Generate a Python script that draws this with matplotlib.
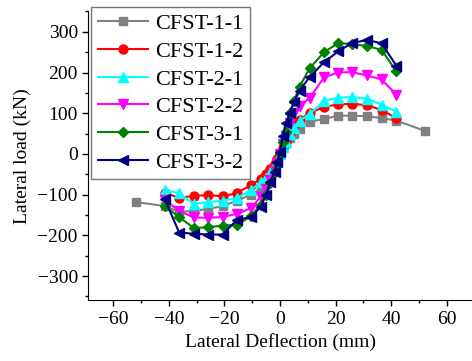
import matplotlib
matplotlib.use("Agg")
import matplotlib.pyplot as plt
from matplotlib.ticker import MultipleLocator

plt.rcParams['font.family'] = ['Liberation Serif', 'DejaVu Serif']

# displacement steps (mm)
x_common = [-41.5, -36.3, -31, -25.9, -20.7, -15.5, -10.4, -7, -5, -3.5, -2, -1, 0,
            1, 2, 3.5, 5, 7, 10.6, 15.8, 20.9, 25.8, 31.2, 36.5, 41.8]
x_11 = [-52] + x_common + [52]

# lateral loads (kN)
y_11 = [-118, -128, -142, -140, -135, -128, -115, -100, -85, -74, -58, -38, -20, 0,
        15, 28, 40, 50, 62, 79, 86, 94, 94, 93, 88, 82, 57]
y_12 = [-95, -108, -103, -101, -104, -96, -76, -62, -50, -38, -24, -12, 0,
        15, 30, 50, 70, 84, 101, 115, 122, 123, 120, 108, 88]
y_21 = [-88, -97, -123, -118, -115, -108, -88, -70, -58, -44, -28, -14, 0,
        16, 30, 48, 64, 82, 98, 130, 138, 140, 136, 121, 104]
y_22 = [-113, -140, -156, -157, -155, -147, -133, -105, -85, -65, -42, -22, 0,
        25, 45, 75, 100, 118, 137, 188, 200, 201, 193, 183, 146]
y_31 = [-128, -155, -182, -180, -176, -174, -153, -125, -100, -72, -45, -22, 0,
        30, 55, 100, 130, 165, 210, 250, 272, 270, 265, 256, 203]
y_32 = [-111, -193, -196, -198, -198, -162, -155, -130, -100, -70, -44, -20, 5,
        45, 75, 100, 128, 155, 189, 225, 252, 272, 280, 272, 217]

labels = ['CFST-1-1', 'CFST-1-2', 'CFST-2-1', 'CFST-2-2', 'CFST-3-1', 'CFST-3-2']
colors = ['#808080', '#ff0000', '#00ffff', '#ff00ff', '#008000', '#000080']
markers = ['s', 'o', '^', 'v', 'D', '<']
sizes = [5.5, 6.5, 7, 7, 5.5, 7]

fig = plt.figure(figsize=(4.72, 3.61), dpi=100)
ax = fig.add_axes([0.187, 0.1676, 0.8127, 0.8006])

series = [(x_11, y_11), (x_common, y_12), (x_common, y_21),
          (x_common, y_22), (x_common, y_31), (x_common, y_32)]
for (xs, ys), lab, c, m, ms in zip(series, labels, colors, markers, sizes):
    ax.plot(xs, ys, color=c, marker=m, markersize=ms, linewidth=1.5, label=lab)

ax.set_xlim(-69, 69)
ax.set_ylim(-360, 350)
ax.spines['top'].set_visible(False)
ax.spines['right'].set_visible(False)
ax.xaxis.set_minor_locator(MultipleLocator(10))
ax.yaxis.set_minor_locator(MultipleLocator(50))
ax.set_xticks([-60, -40, -20, 0, 20, 40, 60])
ax.set_yticks([-300, -200, -100, 0, 100, 200, 300])
ax.tick_params(which='major', direction='out', length=4, width=1, labelsize=14)
ax.tick_params(which='minor', direction='out', length=2.5, width=1)

ax.set_xlabel('Lateral Deflection (mm)', fontsize=14, labelpad=4)
ax.set_ylabel('Lateral load (kN)', fontsize=14, labelpad=5)

leg = ax.legend(loc='upper left', bbox_to_anchor=(91 / 472, 1 - 7 / 361),
                bbox_transform=fig.transFigure, borderaxespad=0, fontsize=16,
                fancybox=False, frameon=True, handlelength=2.25,
                handletextpad=0.35, labelspacing=0.32, borderpad=0.3)
leg.get_frame().set_edgecolor('#555555')
leg.get_frame().set_linewidth(1.0)

fig.savefig('out.png', dpi=100)
